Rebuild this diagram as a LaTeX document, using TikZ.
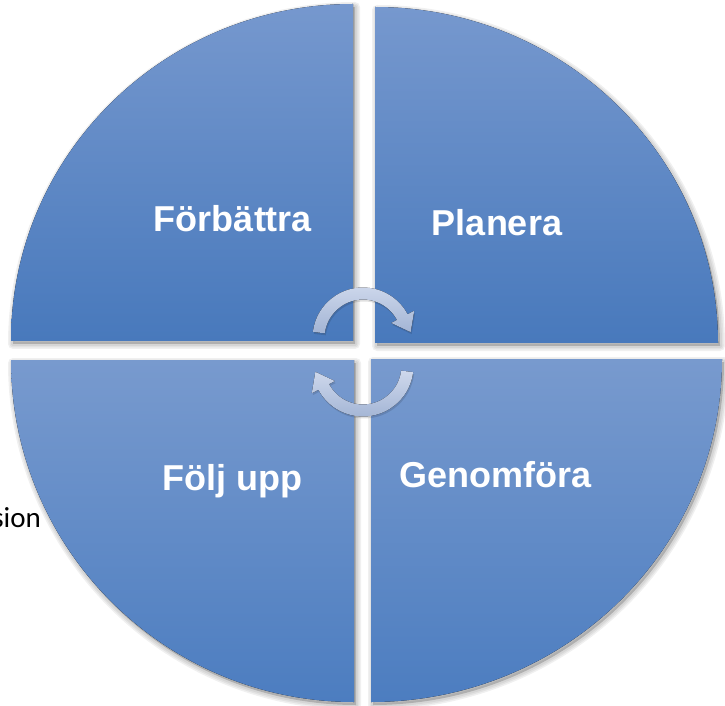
\documentclass[tikz,border=0pt]{standalone}
\usepackage{fontspec}
\setmainfont{Liberation Sans}
\newfontfamily\calib{Carlito}
\definecolor{qtop}{RGB}{118,152,206}
\definecolor{qbot}{RGB}{72,121,188}
\definecolor{btop}{RGB}{120,154,206}
\definecolor{bbot}{RGB}{76,125,192}
\definecolor{atop}{RGB}{206,216,236}
\definecolor{abot}{RGB}{162,180,212}
\tikzset{
  quadtop/.style={top color=qtop, bottom color=qbot, draw=none},
  quadbot/.style={top color=btop, bottom color=bbot, draw=none},
  lbl/.style={text=white, font=\fontsize{36}{40}\selectfont\bfseries, anchor=base, inner sep=0pt},
  cyc/.style={top color=atop, bottom color=abot, draw=none},
  softshadow/.style={black, draw opacity=0.06, line join=round}
}
\newcommand\quadshape[2]{%
  \begin{scope}[shift={(2,-3)}]
    \foreach \w in {10,7,4} {\draw[softshadow, line width=\w pt] #1;}
    \fill[black, opacity=0.18] #1;
  \end{scope}
  \fill[#2] #1;}
\def\pTL{(353,364) -- (11,364) arc[start angle=180,end angle=90,x radius=342pt,y radius=337pt] -- cycle}
\def\pTR{(375,362) -- (375,698) arc[start angle=90,end angle=0,x radius=343pt,y radius=336pt] -- cycle}
\def\pBL{(354,345) -- (11,345) arc[start angle=180,end angle=270,x radius=343pt,y radius=342pt] -- cycle}
\def\pBR{(371,346) -- (722,346) arc[start angle=0,end angle=-90,x radius=351pt,y radius=343pt] -- cycle}
\begin{document}
\begin{tikzpicture}[x=1pt,y=1pt]
\useasboundingbox (0,0) rectangle (725,705);
\node[font=\calib\fontsize{29}{33}\selectfont, anchor=base east, inner sep=0pt] (sion) at (41,178) {sion};
\quadshape{\pTL}{quadtop}
\quadshape{\pTR}{quadtop}
\quadshape{\pBL}{quadbot}
\quadshape{\pBR}{quadbot}
\node[lbl] (forb) at (233,473) {Förbättra};
\node[lbl] (plan) at (497,469) {Planera};
\node[lbl] (folj) at (232.5,215) {Följ upp};
\node[lbl] (genom) at (495.5,217.5) {Genomföra};
% cycle arrows
\begin{scope}[shift={(363,367)}]
  \fill[black, opacity=0.12, shift={(1,-2)}] (173:50.5) arc[start angle=173,end angle=28,radius=50.5pt] -- (28:58) -- (7:48) -- (28:32) -- (28:38.5) arc[start angle=28,end angle=173,radius=38.5pt] -- cycle;
  \fill[cyc] (173:50.5) arc[start angle=173,end angle=28,radius=50.5pt] -- (28:58) -- (7:48) -- (28:32) -- (28:38.5) arc[start angle=28,end angle=173,radius=38.5pt] -- cycle;
\end{scope}
\begin{scope}[shift={(363,339)}]
  \fill[black, opacity=0.12, shift={(1,-2)}] (353:50.5) arc[start angle=353,end angle=208,radius=50.5pt] -- (208:58) -- (187:48) -- (208:32) -- (208:38.5) arc[start angle=208,end angle=353,radius=38.5pt] -- cycle;
  \fill[cyc] (353:50.5) arc[start angle=353,end angle=208,radius=50.5pt] -- (208:58) -- (187:48) -- (208:32) -- (208:38.5) arc[start angle=208,end angle=353,radius=38.5pt] -- cycle;
\end{scope}
\end{tikzpicture}
\end{document}
